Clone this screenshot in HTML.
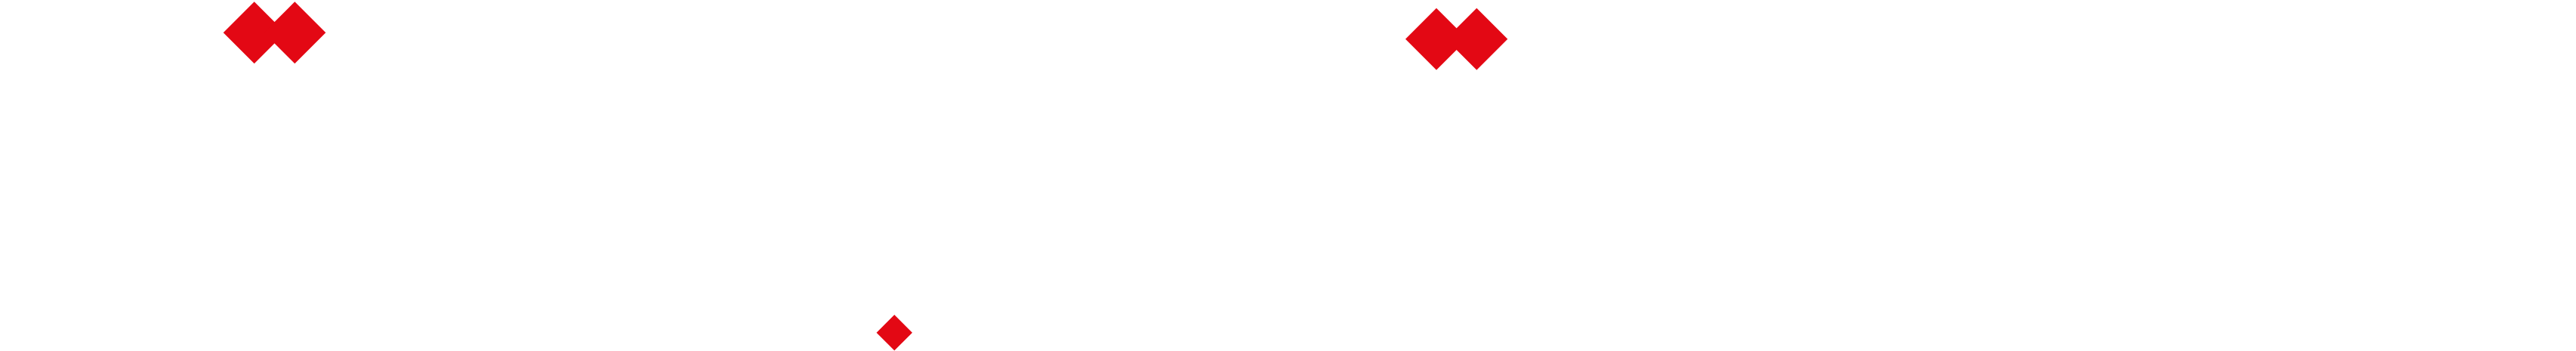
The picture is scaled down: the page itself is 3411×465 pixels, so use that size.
<!DOCTYPE html>
<html><head><meta charset="utf-8"><style>
html,body{margin:0;padding:0;background:#fff;width:3411px;height:465px;overflow:hidden}
svg{display:block}
</style></head><body>
<svg id="chart" width="3411" height="465" xmlns="http://www.w3.org/2000/svg"></svg>
<script>
// Data (x and y in data units)
const xValues = [336.7, 390.3, 1902, 1955.3, 1184.3];
const yValues = [43.3, 43.3, 51.7, 51.7, 440.7];
const markerSizes = [41, 41, 41, 41, 23.7];

// Axis functions
const xDomain = [0, 3411], xRange = [0, 3411];
const yDomain = [0, 465], yRange = [0, 465];
function xScale(v){ return xRange[0] + (v - xDomain[0]) / (xDomain[1] - xDomain[0]) * (xRange[1] - xRange[0]); }
function yScale(v){ return yRange[0] + (v - yDomain[0]) / (yDomain[1] - yDomain[0]) * (yRange[1] - yRange[0]); }

const svg = document.getElementById('chart');
const NS = 'http://www.w3.org/2000/svg';
for (let i = 0; i < xValues.length; i++) {
  const cx = xScale(xValues[i]), cy = yScale(yValues[i]), r = markerSizes[i];
  const p = document.createElementNS(NS, 'polygon');
  p.setAttribute('points', `${cx},${cy - r} ${cx + r},${cy} ${cx},${cy + r} ${cx - r},${cy}`);
  p.setAttribute('fill', '#e30814');
  
  
  svg.appendChild(p);
}
</script>
</body></html>
